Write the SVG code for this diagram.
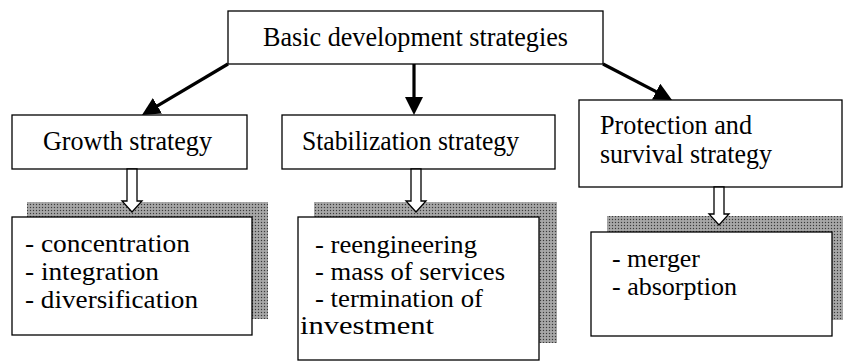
<svg xmlns="http://www.w3.org/2000/svg" width="843" height="363" viewBox="0 0 843 363">
<defs>
<style>
.box{fill:#fff;stroke:#000;stroke-width:1.3}
.t{font-family:Liberation Serif, Times New Roman, Times, serif;font-size:27px;fill:#000}
.l{font-family:Liberation Serif, Times New Roman, Times, serif;font-size:26px;fill:#000}
.con{stroke:#000;stroke-width:3.2;fill:none;marker-end:url(#ah)}
.hol{fill:#fff;stroke:#000;stroke-width:1.3}
.sh{fill:url(#dots)}
</style>
<marker id="ah" markerUnits="userSpaceOnUse" markerWidth="18" markerHeight="18" refX="6" refY="9" orient="auto">
<path d="M0,0 L18,9 L0,18 z" fill="#000"/>
</marker>
<pattern id="dots" width="3" height="3" patternUnits="userSpaceOnUse">
<rect width="3" height="3" fill="#9c9c9c"/>
<rect x="0" y="0" width="1" height="1" fill="#3a3a3a"/>
<rect x="1.5" y="1.5" width="1" height="1" fill="#c8c8c8"/>
</pattern>
</defs>
<rect width="843" height="363" fill="#fff"/>

<g id="shadows">
<rect class="sh" x="27" y="202" width="241" height="117"/>
<rect class="sh" x="314" y="202" width="243" height="141"/>
<rect class="sh" x="607" y="216" width="236" height="104"/>
</g>

<g id="root">
<rect class="box" x="228" y="11" width="375" height="53"/>
<text class="t" x="263" y="46" textLength="305" lengthAdjust="spacingAndGlyphs">Basic development strategies</text>
</g>

<g id="growth">
<rect class="box" x="12" y="115" width="235" height="54"/>
<text class="t" x="43" y="150" textLength="169" lengthAdjust="spacingAndGlyphs">Growth strategy</text>
</g>

<g id="stabilization">
<rect class="box" x="282" y="115" width="273" height="54"/>
<text class="t" x="302" y="150" textLength="217" lengthAdjust="spacingAndGlyphs">Stabilization strategy</text>
</g>

<g id="protection">
<rect class="box" x="579" y="100" width="263" height="87"/>
<text class="t" x="600" y="134" textLength="152" lengthAdjust="spacingAndGlyphs">Protection and</text>
<text class="t" x="600" y="163" textLength="172" lengthAdjust="spacingAndGlyphs">survival strategy</text>
</g>

<g id="connectors">
<line class="con" x1="228" y1="64" x2="152.3" y2="108.9"/>
<line class="con" x1="414" y1="64" x2="414" y2="103"/>
<line class="con" x1="603" y1="64" x2="661.4" y2="94.4"/>
<polygon class="hol" points="127,169 137,169 137,201 142,201 132,212 122,201 127,201"/>
<polygon class="hol" points="411,169 421,169 421,201 426,201 416,212 406,201 411,201"/>
<polygon class="hol" points="714,187 724,187 724,214 729,214 719,225 709,214 714,214"/>
</g>

<g id="growth-list">
<rect class="box" x="12" y="217" width="240" height="118"/>
<text class="l" x="25" y="252" textLength="165" lengthAdjust="spacingAndGlyphs">- concentration</text>
<text class="l" x="25" y="280" textLength="134" lengthAdjust="spacingAndGlyphs">- integration</text>
<text class="l" x="25" y="308" textLength="173" lengthAdjust="spacingAndGlyphs">- diversification</text>
</g>

<g id="stabilization-list">
<rect class="box" x="298" y="217" width="241" height="143"/>
<text class="l" x="315" y="253" textLength="162" lengthAdjust="spacingAndGlyphs">- reengineering</text>
<text class="l" x="315" y="280" textLength="190" lengthAdjust="spacingAndGlyphs">- mass of services</text>
<text class="l" x="315" y="307" textLength="168" lengthAdjust="spacingAndGlyphs">- termination of</text>
<text class="l" x="300" y="334" textLength="134" lengthAdjust="spacingAndGlyphs">investment</text>
</g>

<g id="protection-list">
<rect class="box" x="591" y="232" width="241" height="104"/>
<text class="l" x="612" y="267" textLength="88" lengthAdjust="spacingAndGlyphs">- merger</text>
<text class="l" x="612" y="295" textLength="125" lengthAdjust="spacingAndGlyphs">- absorption</text>
</g>
</svg>
